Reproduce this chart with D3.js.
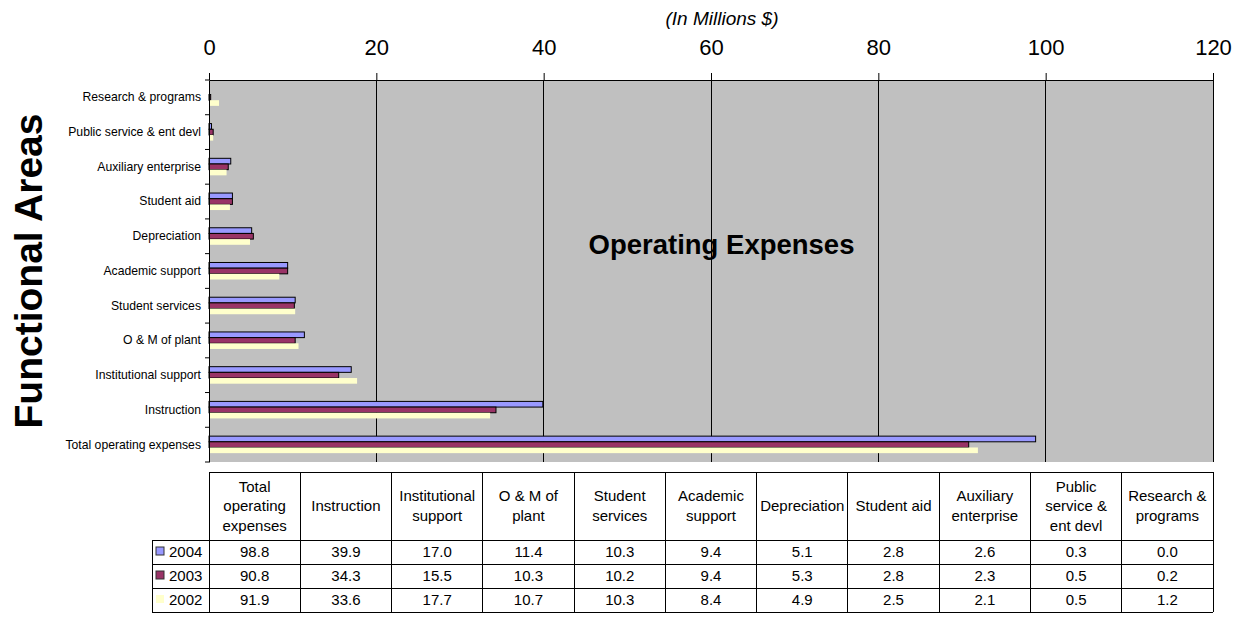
<!DOCTYPE html>
<html>
<head>
<meta charset="utf-8">
<script src="https://cdn.jsdelivr.net/npm/d3@7"></script>
<style>
  body { margin: 0; background: #fff; }
  svg { font-family: Arial, "Liberation Sans", sans-serif; }
</style>
</head>
<body>
<div id="chart"></div>
<script>
// data, in table order (left to right)
var categories = ["Total operating expenses", "Instruction", "Institutional support", "O & M of plant",
  "Student services", "Academic support", "Depreciation", "Student aid", "Auxiliary enterprise",
  "Public service & ent devl", "Research & programs"];
var tableHeaders = [["Total", "operating", "expenses"], ["Instruction"], ["Institutional", "support"],
  ["O & M  of", "plant"], ["Student", "services"], ["Academic", "support"], ["Depreciation"],
  ["Student aid"], ["Auxiliary", "enterprise"], ["Public", "service &", "ent devl"], ["Research &", "programs"]];
var years = ["2004", "2003", "2002"];
var v2004 = [98.8, 39.9, 17.0, 11.4, 10.3, 9.4, 5.1, 2.8, 2.6, 0.3, 0.0];
var v2003 = [90.8, 34.3, 15.5, 10.3, 10.2, 9.4, 5.3, 2.8, 2.3, 0.5, 0.2];
var v2002 = [91.9, 33.6, 17.7, 10.7, 10.3, 8.4, 4.9, 2.5, 2.1, 0.5, 1.2];
var xTicks = [0, 20, 40, 60, 80, 100, 120];

var series = [
  {year: "2004", values: v2004, fill: "#9999ff", stroke: "#000"},
  {year: "2003", values: v2003, fill: "#993366", stroke: "#000"},
  {year: "2002", values: v2002, fill: "#ffffcc", stroke: "none"}
];

var W = 1238, H = 618;
var plot = {left: 209, right: 1213, top: 80, bottom: 462};

var svg = d3.select("#chart").append("svg")
  .attr("width", W).attr("height", H);

var x = d3.scaleLinear().domain([0, 120]).range([plot.left, plot.right]);
var y0 = d3.scaleBand().domain(categories.slice().reverse())
  .range([plot.top, plot.bottom]).paddingInner(0.51).paddingOuter(0.255);
var y1 = d3.scaleBand().domain(years).range([0, y0.bandwidth()]);

// plot background
svg.append("rect")
  .attr("x", plot.left).attr("y", plot.top)
  .attr("width", plot.right - plot.left).attr("height", plot.bottom - plot.top)
  .attr("fill", "#c0c0c0");

// grid lines
svg.append("g").selectAll("line")
  .data(xTicks.slice(1))
  .enter().append("line")
  .attr("x1", function(d) { return x(d); }).attr("x2", function(d) { return x(d); })
  .attr("y1", plot.top).attr("y2", plot.bottom)
  .attr("stroke", "#000").attr("stroke-width", 1).attr("shape-rendering", "crispEdges");

// bars
var groups = svg.append("g").selectAll("g")
  .data(categories)
  .enter().append("g")
  .attr("transform", function(d) { return "translate(0," + y0(d) + ")"; });

groups.selectAll("rect")
  .data(function(d, i) { return series.map(function(s) { return {s: s, v: s.values[i]}; }); })
  .enter().append("rect")
  .attr("x", x(0))
  .attr("y", function(d) { return y1(d.s.year); })
  .attr("width", function(d) { return x(d.v) - x(0); })
  .attr("height", y1.bandwidth())
  .attr("fill", function(d) { return d.s.fill; })
  .attr("stroke", function(d) { return d.s.stroke; })
  .attr("stroke-width", 1);

// top axis
var xAxis = svg.append("g")
  .attr("transform", "translate(0," + plot.top + ")")
  .call(d3.axisTop(x).tickValues(xTicks).tickSize(7).tickSizeOuter(0).tickPadding(18));
xAxis.select(".domain").attr("stroke", "#000");
xAxis.selectAll("text").attr("font-size", 22).attr("fill", "#000")
  .attr("font-family", "Arial, 'Liberation Sans', sans-serif");

// left axis: labels at band centres, ticks on band edges
var yAxis = svg.append("g")
  .attr("transform", "translate(" + plot.left + ",0)")
  .call(d3.axisLeft(y0).tickSize(0).tickPadding(8));
yAxis.select(".domain").attr("stroke", "#000");
yAxis.selectAll("text").attr("font-size", 12.2).attr("fill", "#000")
  .attr("font-family", "Arial, 'Liberation Sans', sans-serif");

var step = y0.step();
var edges = [plot.top].concat(categories.map(function(c) { return y0(c) + y0.bandwidth() / 2 + step / 2; }));
svg.append("g").selectAll("line")
  .data(edges)
  .enter().append("line")
  .attr("x1", plot.left - 4).attr("x2", plot.left)
  .attr("y1", function(d) { return d; }).attr("y2", function(d) { return d; })
  .attr("stroke", "#000");

// titles
svg.append("text")
  .attr("x", 722).attr("y", 25)
  .attr("text-anchor", "middle").attr("font-size", 19).attr("font-style", "italic")
  .text("(In Millions $)");

svg.append("text")
  .attr("x", 721.5).attr("y", 254)
  .attr("text-anchor", "middle").attr("font-size", 27.5).attr("font-weight", "bold")
  .text("Operating Expenses");

svg.append("text")
  .attr("transform", "translate(42,271) rotate(-90)")
  .attr("text-anchor", "middle").attr("font-size", 39).attr("font-weight", "bold")
  .text("Functional Areas");

// data table
var tbl = {top: 472, head: 540, rowH: 24, legendLeft: 152};
var col = d3.scaleBand().domain(categories).range([plot.left, plot.right]);
var table = svg.append("g").attr("font-size", 15);

var tableBottom = tbl.head + tbl.rowH * years.length;

// header text
categories.forEach(function(c, i) {
  var lines = tableHeaders[i];
  var t = table.append("text")
    .attr("text-anchor", "middle")
    .attr("x", col(c) + col.bandwidth() / 2)
    .attr("y", (tbl.top + tbl.head) / 2 - (lines.length - 1) * 19.5 / 2 + 5);
  lines.forEach(function(l, k) {
    t.append("tspan").attr("x", col(c) + col.bandwidth() / 2)
      .attr("dy", k === 0 ? 0 : 19.5).text(l);
  });
});

// value rows
series.forEach(function(s, r) {
  var cy = tbl.head + tbl.rowH * (r + 0.5) + 5;
  table.selectAll(".v" + s.year)
    .data(s.values)
    .enter().append("text")
    .attr("text-anchor", "middle")
    .attr("x", function(d, i) { return col(categories[i]) + col.bandwidth() / 2; })
    .attr("y", cy)
    .text(function(d) { return d.toFixed(1); });
  table.append("rect")
    .attr("x", tbl.legendLeft + 4).attr("y", cy - 10)
    .attr("width", 8).attr("height", 8)
    .attr("fill", s.fill).attr("stroke", s.stroke === "none" ? "none" : "#333");
  table.append("text")
    .attr("x", tbl.legendLeft + 17).attr("y", cy)
    .text(s.year);
});

// table lines
var lines = table.append("g").attr("stroke", "#000").attr("stroke-width", 1)
  .attr("shape-rendering", "crispEdges");
lines.append("line").attr("x1", plot.left).attr("x2", plot.right)
  .attr("y1", tbl.top).attr("y2", tbl.top);
d3.range(years.length + 1).forEach(function(r) {
  var yy = tbl.head + tbl.rowH * r;
  lines.append("line").attr("x1", tbl.legendLeft).attr("x2", plot.right)
    .attr("y1", yy).attr("y2", yy);
});
lines.append("line").attr("x1", tbl.legendLeft).attr("x2", tbl.legendLeft)
  .attr("y1", tbl.head).attr("y2", tableBottom);
categories.concat([null]).forEach(function(c) {
  var xx = c === null ? plot.right : col(c);
  lines.append("line").attr("x1", xx).attr("x2", xx)
    .attr("y1", tbl.top).attr("y2", tableBottom);
});
</script>
</body>
</html>
